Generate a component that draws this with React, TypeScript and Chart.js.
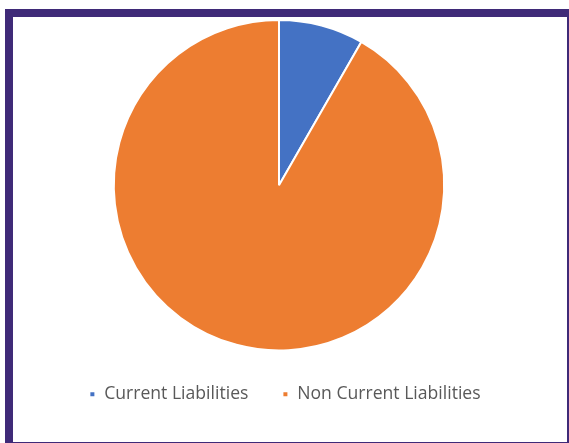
import React, { useEffect, useRef } from "react";
import { Chart, registerables } from "chart.js";

Chart.register(...registerables);

const categories = ["Current Liabilities", "Non Current Liabilities"];
const values = [8.3, 91.7];
const colors = ["#4472C4", "#ED7D31"];

const legendShift = {
  id: "legendShift",
  afterLayout(chart: any) {
    if (chart.legend) {
      chart.legend.left += 6;
      chart.legend.right += 6;
    }
  },
};

export default function App() {
  const ref = useRef<HTMLCanvasElement | null>(null);
  useEffect(() => {
    if (!ref.current) return;
    const chart = new Chart(ref.current, {
      type: "pie",
      data: {
        labels: categories,
        datasets: [
          {
            data: values,
            backgroundColor: colors,
            borderColor: "#ffffff",
            borderWidth: 2,
          },
        ],
      },
      options: {
        animation: false,
        responsive: false,
        maintainAspectRatio: false,
        layout: { padding: { top: 2, bottom: 29, left: 0, right: 22 } },
        plugins: {
          tooltip: { enabled: false },
          legend: {
            position: "bottom",
            labels: {
              boxWidth: 6,
              boxHeight: 6,
              padding: 34,
              color: "#595959",
              font: { family: "'Open Sans', sans-serif", size: 17.6 },
            },
          },
        },
      },
      plugins: [legendShift],
    });
    return () => chart.destroy();
  }, []);
  return (
    <div
      style={{
        position: "fixed",
        left: 5,
        top: 9,
        width: 554,
        height: 425,
        borderStyle: "solid",
        borderColor: "#3f2a78",
        borderWidth: "8px 2px 1px 8px",
        background: "#ffffff",
      }}
    >
      <canvas ref={ref} width={554} height={425} style={{ display: "block" }} />
    </div>
  );
}
